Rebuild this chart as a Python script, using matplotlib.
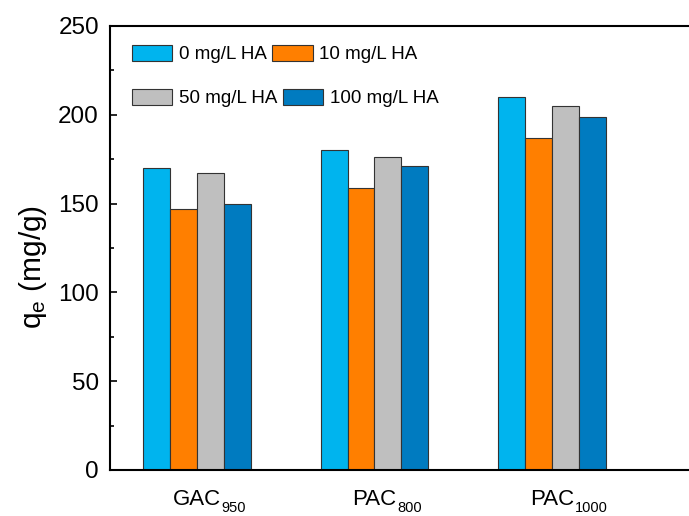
import matplotlib
matplotlib.use('Agg')
import matplotlib.pyplot as plt
from matplotlib.ticker import MultipleLocator
import numpy as np

plt.rcParams['font.family'] = 'Liberation Sans'
plt.rcParams['mathtext.fontset'] = 'custom'
plt.rcParams['mathtext.rm'] = 'Liberation Sans'
plt.rcParams['mathtext.default'] = 'regular'

# data
samples = ['GAC', 'PAC', 'PAC']
subs = ['950', '800', '1000']
series = ['0 mg/L HA', '10 mg/L HA', '50 mg/L HA', '100 mg/L HA']
ha0 = [170, 180, 210]
ha10 = [147, 159, 187]
ha50 = [167.5, 176, 205]
ha100 = [149.5, 171, 198.5]
colors = ['#00B4EE', '#FF7F00', '#BFBFBF', '#007BC0']

fig = plt.figure(figsize=(6.89, 5.16), dpi=100)
ax = fig.add_axes([110/689, 46/516, 584/689, 444/516])

ind = np.arange(len(samples))
width = .152
bars = []
for k, vals in enumerate([ha0, ha10, ha50, ha100]):
    b = ax.bar(ind + (k - 1.5)*width, vals, width, color=colors[k],
               edgecolor='#333333', linewidth=0.8, label=series[k])
    bars.append(b)

ax.set_xlim(-0.49, 2.8)
ax.set_ylim(0, 250)
ax.yaxis.set_major_locator(MultipleLocator(50))
ax.yaxis.set_minor_locator(MultipleLocator(25))
ax.tick_params(axis='y', which='both', direction='in', labelsize=17.5, width=1.2, pad=8)
ax.tick_params(axis='y', which='major', length=5)
ax.tick_params(axis='y', which='minor', length=3)
ax.set_xticks([])
ax.spines['right'].set_visible(False)
for s in ['left', 'top', 'bottom']:
    ax.spines[s].set_linewidth(1.5)
ax.set_ylabel('q$_e$ (mg/g)', fontsize=21.5)
ax.yaxis.set_label_coords(-0.104, 0.458)

# category labels: main text centred on the group, subscript hanging to the right
trans = ax.get_xaxis_transform()
for i in ind:
    t = ax.text(i, -35/444, samples[i], transform=trans, ha='center',
                va='baseline', fontsize=16)
    ax.annotate(subs[i], xy=(1, 0), xycoords=t, xytext=(0.5, 6.5),
                textcoords='offset points', ha='left', va='top', fontsize=10.5)

# two rows of legend, each its own box like the original
leg_kw = dict(ncol=2, loc='center left', frameon=False, fontsize=13.5,
              handlelength=2.15, handleheight=0.95, columnspacing=0.3,
              handletextpad=0.35, borderaxespad=0, borderpad=0)
leg1 = ax.legend([bars[0], bars[1]], series[:2],
                 bbox_to_anchor=(22/584, 1 - 28/444), **leg_kw)
ax.add_artist(leg1)
ax.legend([bars[2], bars[3]], series[2:],
          bbox_to_anchor=(22/584, 1 - 72/444), **leg_kw)

fig.savefig('out.png', dpi=100)
